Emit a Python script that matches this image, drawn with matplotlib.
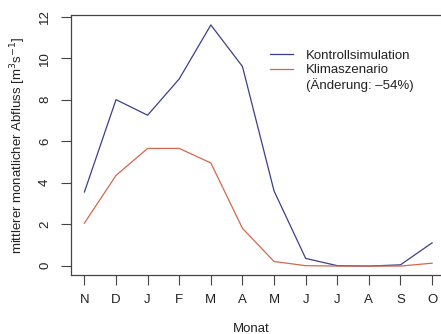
import matplotlib
matplotlib.use("Agg")
import matplotlib.pyplot as plt
from matplotlib.lines import Line2D

plt.rcParams['font.family'] = ['Liberation Sans', 'DejaVu Sans']

months = ["N", "D", "J", "F", "M", "A", "M", "J", "J", "A", "S", "O"]
kontroll = [3.55, 8.0, 7.25, 9.0, 11.6, 9.6, 3.6, 0.35, 0.0, -0.02, 0.04, 1.1]
klima = [2.05, 4.35, 5.65, 5.65, 4.95, 1.8, 0.2, 0.0, -0.02, -0.02, -0.02, 0.12]
yticks = [0, 2, 4, 6, 8, 10, 12]
legend_labels = ["Kontrollsimulation", "Klimaszenario", "(Änderung: \u201354%)"]

blue = "#3c3f8c"
red = "#d4674f"
axcol = "#444444"

fig = plt.figure(figsize=(4.41, 3.34), dpi=100)
ax = fig.add_axes([70.5/441, 59/334, (446-70.5)/441, (275-15)/334])

x = list(range(1, len(months) + 1))
l1, = ax.plot(x, kontroll, color=blue, lw=0.9)
l2, = ax.plot(x, klima, color=red, lw=0.9)

ax.set_xlim(0.56, 12.44)
ax.set_ylim(-0.45, 12.08)
ax.set_xticks(x)
ax.set_xticklabels(months)
ax.set_yticks(yticks)
ax.set_yticklabels([str(v) for v in yticks], rotation=90, va='center')

for s in ax.spines.values():
    s.set_color(axcol)
    s.set_linewidth(0.9)

ax.tick_params(axis='both', direction='out', length=7, width=0.8, color=axcol,
               labelsize=9.5, labelcolor="#222222")
ax.tick_params(axis='x', pad=7)
ax.tick_params(axis='y', pad=7)

ax.set_ylabel("mittlerer monatlicher Abfluss [m$^3$s$^{-1}$]", fontsize=9.5,
              color="#222222", labelpad=8)
fig.text(251/441, 1 - 328.5/334, "Monat", ha='center', va='center', fontsize=9.5,
         color="#222222")

blank = Line2D([], [], color='none')
leg = ax.legend([l1, l2, blank], legend_labels,
                loc='upper left', bbox_to_anchor=((265-70.5)/(446-70.5), (275-44.5)/(275-15)),
                frameon=False, fontsize=9.5, handlelength=1.7, handletextpad=1.0,
                labelspacing=0.16, borderaxespad=0)
for t in leg.get_texts():
    t.set_color("#222222")

fig.savefig("out.png", dpi=100)
